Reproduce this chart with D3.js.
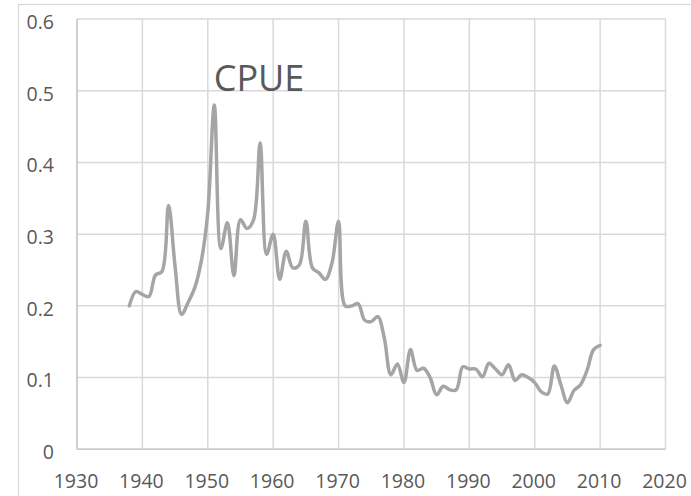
<!DOCTYPE html>
<html><head><meta charset="utf-8">
<script src="https://cdn.jsdelivr.net/npm/d3@7"></script>
<style>body{margin:0;background:#fff}svg{display:block}</style>
</head><body>
<svg id="c" width="691" height="496"></svg>
<script>
const years = d3.range(1938, 2011);
const cpue = [0.200,0.220,0.216,0.213,0.243,0.248,0.340,0.255,0.188,0.205,0.225,0.262,0.330,0.480,0.280,0.316,0.242,0.320,0.308,0.320,0.427,0.272,0.300,0.237,0.276,0.253,0.257,0.318,0.253,0.246,0.237,0.260,0.318,0.200,0.200,0.203,0.180,0.178,0.185,0.155,0.104,0.119,0.093,0.139,0.110,0.113,0.100,0.076,0.088,0.083,0.083,0.115,0.112,0.112,0.101,0.120,0.112,0.104,0.118,0.096,0.104,0.100,0.093,0.080,0.077,0.116,0.090,0.065,0.082,0.090,0.110,0.139,0.145];
const xTicks = [1930,1940,1950,1960,1970,1980,1990,2000,2010,2020];
const yTicks = [0,0.1,0.2,0.3,0.4,0.5,0.6];
const title = "CPUE";

const svg = d3.select("#c");
const x = d3.scaleLinear().domain([1930,2020]).range([77,665.5]);
const y = d3.scaleLinear().domain([0,0.6]).range([449.3,19]);

svg.append("rect").attr("x",18.5).attr("y",4.5).attr("width",700).attr("height",520)
  .attr("fill","none").attr("stroke","#d9d9d9").attr("stroke-width",1.2);

svg.append("g").selectAll("line").data(yTicks).join("line")
  .attr("x1",77).attr("x2",665.5).attr("y1",d=>y(d)).attr("y2",d=>y(d))
  .attr("stroke","#d9d9d9").attr("stroke-width",1.5);
svg.append("g").selectAll("line").data(xTicks).join("line")
  .attr("x1",d=>x(d)).attr("x2",d=>x(d)).attr("y1",y(0.6)).attr("y2",y(0))
  .attr("stroke","#d9d9d9").attr("stroke-width",1.5);
svg.append("line").attr("x1",x(1930)).attr("x2",x(1930)).attr("y1",y(0.6)).attr("y2",y(0))
  .attr("stroke","#c8c8c8").attr("stroke-width",1.5);
svg.append("line").attr("x1",x(1930)).attr("x2",x(2020)).attr("y1",y(0)).attr("y2",y(0))
  .attr("stroke","#c8c8c8").attr("stroke-width",1.5);

const font = "'Open Sans', sans-serif";
svg.append("g").selectAll("text").data(yTicks).join("text")
  .attr("x",54).attr("y",d=>y(d)+3).attr("dy","0.35em").attr("text-anchor","end")
  .attr("font-family",font).attr("font-size",19.5).attr("fill","#595959")
  .text(d=>d===0?"0":d3.format(".1f")(d));
svg.append("g").selectAll("text").data(xTicks).join("text")
  .attr("x",d=>x(d)-1).attr("y",481).attr("dy","0.35em").attr("text-anchor","middle")
  .attr("font-family",font).attr("font-size",19.5).attr("fill","#595959")
  .text(d=>d);

const line = d3.line().x((d,i)=>x(years[i])).y(d=>y(d)).curve(d3.curveCatmullRom.alpha(0.5));
svg.append("path").datum(cpue).attr("d",line).attr("fill","none")
  .attr("stroke","#a5a5a5").attr("stroke-width",3.5).attr("stroke-linejoin","round").attr("stroke-linecap","round");

svg.append("text").attr("x",259).attr("y",y(0.5)).attr("text-anchor","middle")
  .attr("font-family",font).attr("font-size",36).attr("fill","#595959").text(title);
</script>
</body></html>
